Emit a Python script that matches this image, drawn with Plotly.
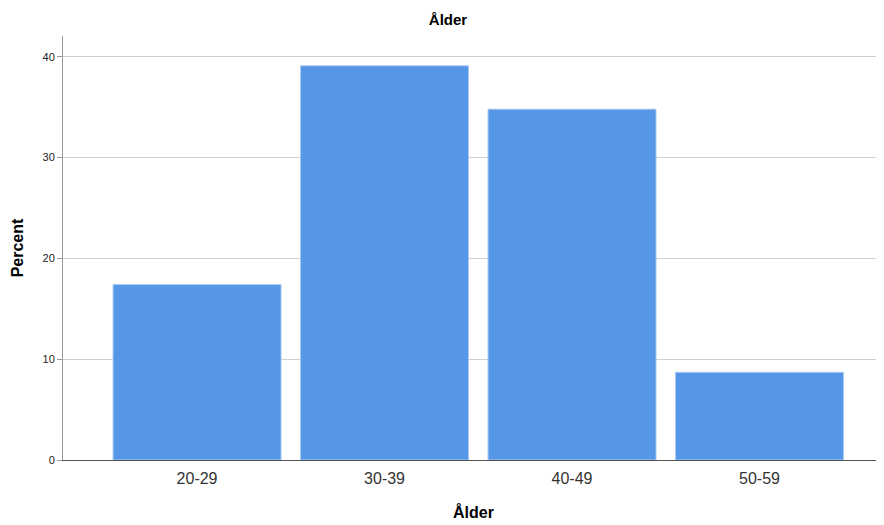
import plotly.graph_objects as go

categories = ["20-29", "30-39", "40-49", "50-59"]
percent = [17.4, 39.1, 34.8, 8.7]
y_ticks = [0, 10, 20, 30, 40]

fig = go.Figure(
    go.Bar(
        x=list(range(len(categories))),
        y=percent,
        marker=dict(color="#5596E6", line=dict(color="#A9C9F2", width=1)),
        width=0.896,
        hoverinfo="skip",
    )
)

font_family = "Liberation Sans, Arial, sans-serif"

W, H = 876, 517

fig.update_layout(
    width=W,
    height=H,
    margin=dict(l=55, r=0, t=28, b=65, autoexpand=False),
    paper_bgcolor="white",
    plot_bgcolor="white",
    showlegend=False,
    font=dict(family=font_family, color="#222"),
    title=dict(
        text="<b>Ålder</b>",
        x=440 / W,
        xanchor="center",
        y=1 - 12 / H,
        yanchor="middle",
        font=dict(size=15, color="black", family=font_family),
    ),
)

fig.update_xaxes(
    range=[-0.715, 3.664],
    tickvals=list(range(len(categories))),
    ticktext=categories,
    tickfont=dict(size=16, color="#333"),
    showgrid=False,
    showline=True,
    linecolor="#555",
    linewidth=1,
    ticks="outside",
    ticklen=4,
    tickcolor="rgba(0,0,0,0)",
    zeroline=False,
    title=dict(text="<b>Ålder</b>", font=dict(size=16, color="black"), standoff=20),
)

fig.update_yaxes(
    range=[0, 42.06],
    tickvals=y_ticks,
    tickfont=dict(size=11, color="#222"),
    showgrid=True,
    gridcolor="#CFCFCF",
    gridwidth=1,
    showline=True,
    linecolor="#999",
    linewidth=1,
    ticks="outside",
    ticklen=5,
    tickcolor="#999",
    zeroline=False,
    title=dict(text="<b>Percent</b>", font=dict(size=16, color="black"), standoff=14),
)

fig.write_html("out.html")
